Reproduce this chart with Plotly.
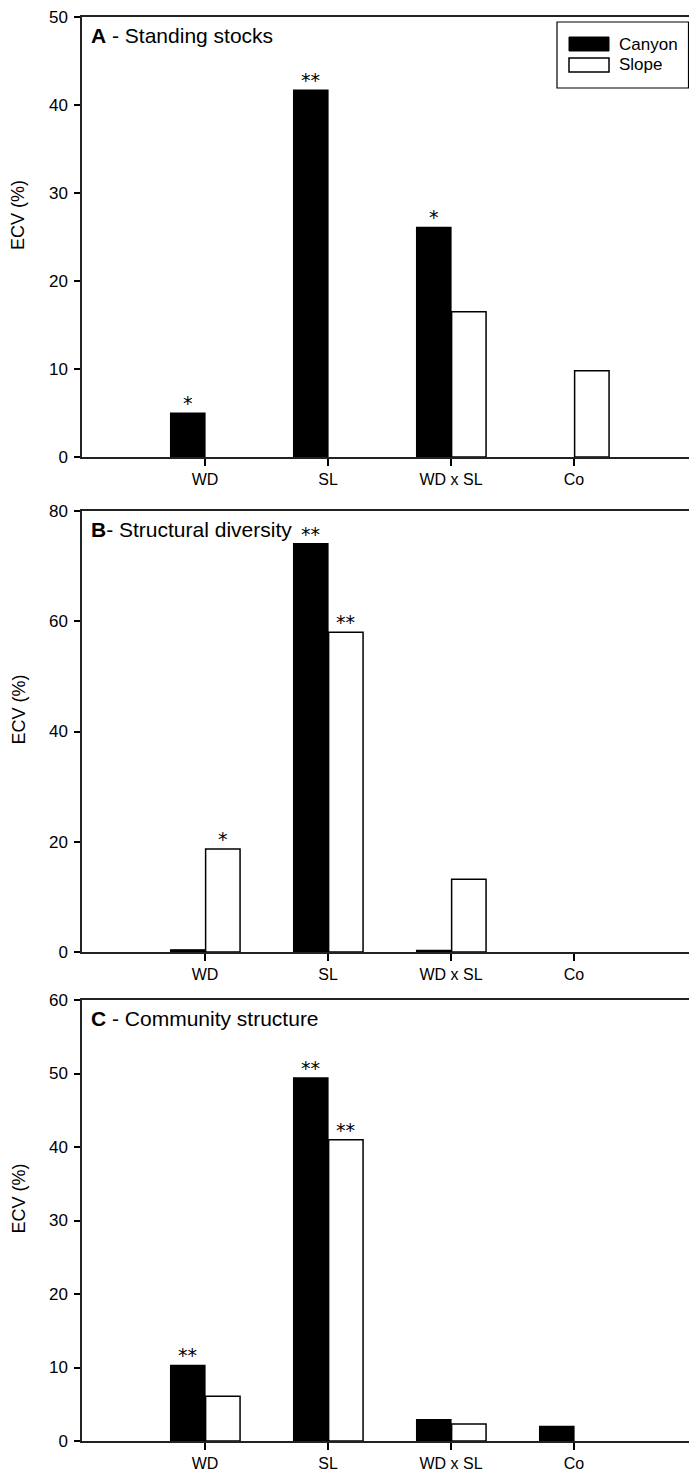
import plotly.graph_objects as go
from plotly.subplots import make_subplots

# Factors on the x axis
categories = ["WD", "SL", "WD x SL", "Co"]

# Explained component of variation (%) per panel
a_canyon = [5.0, 41.7, 26.1, 0.0]
a_slope = [0.0, 0.0, 16.5, 9.8]
b_canyon = [0.4, 74.1, 0.3, 0.0]
b_slope = [18.7, 58.0, 13.2, 0.0]
c_canyon = [10.3, 49.4, 2.9, 2.0]
c_slope = [6.1, 41.0, 2.3, 0.0]

# Significance markers drawn above the bars
a_canyon_sig = ["*", "**", "*", ""]
a_slope_sig = ["", "", "", ""]
b_canyon_sig = ["", "**", "", ""]
b_slope_sig = ["*", "**", "", ""]
c_canyon_sig = ["**", "**", "", ""]
c_slope_sig = ["", "**", "", ""]

series_names = ["Canyon", "Slope"]
panel_titles = ["<b>A</b> - Standing stocks",
                "<b>B</b>- Structural diversity",
                "<b>C</b> - Community structure"]
y_ranges = [(0, 50), (0, 80), (0, 60)]
y_dticks = [10, 20, 10]

panels = [
    (a_canyon, a_slope, a_canyon_sig, a_slope_sig),
    (b_canyon, b_slope, b_canyon_sig, b_slope_sig),
    (c_canyon, c_slope, c_canyon_sig, c_slope_sig),
]

FONT = "Liberation Sans, Arial, sans-serif"
STAR_FONT = "DejaVu Sans, sans-serif"
W, H = 689, 1474
M_L, M_R, M_T, M_B = 82, 0, 17, 33
CAT_STEP = 123.0                      # pixels between category centres
PLOT_W = W - M_L - M_R
X_MAX = PLOT_W / CAT_STEP
BAR_W = 0.28
SLOPE_OFF = 0.005
x_pos = list(range(1, len(categories) + 1))

plot_h = H - M_T - M_B


def px_x(px):
    return (px - M_L) / PLOT_W


def px_y(py):
    return (H - M_B - py) / plot_h


def dom(top_px, bottom_px):
    return [px_y(bottom_px), px_y(top_px)]


domains = [dom(17, 457), dom(511, 952), dom(1000, 1441)]


def outline(vals, w):
    # no outline on empty bars so they don't leave a stub on the axis
    return [w if v > 0 else 0 for v in vals]


fig = make_subplots(rows=3, cols=1)

annotations = []
shapes = []
for i, (canyon, slope, csig, ssig) in enumerate(panels):
    row = i + 1
    fig.add_trace(go.Bar(
        x=x_pos, y=canyon, name=series_names[0], width=BAR_W, offset=-BAR_W,
        marker=dict(color="black", line=dict(color="black", width=outline(canyon, 1.2))),
        showlegend=False), row=row, col=1)
    fig.add_trace(go.Bar(
        x=x_pos, y=slope, name=series_names[1], width=BAR_W, offset=SLOPE_OFF,
        marker=dict(color="white", line=dict(color="black", width=outline(slope, 1.5))),
        showlegend=False), row=row, col=1)

    xr = "x" if i == 0 else f"x{row}"
    yr = "y" if i == 0 else f"y{row}"
    for xs, vals, sigs in ((-BAR_W / 2, canyon, csig),
                           (BAR_W / 2 + SLOPE_OFF, slope, ssig)):
        for xp, v, s in zip(x_pos, vals, sigs):
            if s:
                annotations.append(dict(
                    x=xp + xs, y=v, xref=xr, yref=yr, text=s,
                    showarrow=False, yanchor="bottom", yshift=-3,
                    font=dict(family=STAR_FONT, size=19, color="black")))
    # panel title
    annotations.append(dict(x=0.012, y=1, xref=f"{xr} domain", yref=f"{yr} domain",
                            text=panel_titles[i], showarrow=False,
                            xanchor="left", yanchor="top", yshift=-5,
                            font=dict(family=FONT, size=21, color="black")))
    # y-axis title
    annotations.append(dict(x=px_x(18), y=0.5, xref="paper",
                            yref=f"{yr} domain", text="ECV (%)", textangle=-90,
                            showarrow=False, xanchor="center", yanchor="middle",
                            yshift=22,
                            font=dict(family=FONT, size=18, color="black")))

    fig.update_xaxes(row=row, col=1, range=[0, X_MAX], tickvals=x_pos,
                     ticktext=categories, ticks="outside", ticklen=7,
                     tickwidth=1.5, tickcolor="black", ticklabelstandoff=0,
                     showline=True, linecolor="#222", linewidth=1.5, mirror=True,
                     showgrid=False, zeroline=False, domain=[0, 1],
                     tickfont=dict(family=FONT, size=16, color="black"))
    fig.update_yaxes(row=row, col=1, range=list(y_ranges[i]), dtick=y_dticks[i],
                     ticks="outside", ticklen=6, tickwidth=1.5, tickcolor="black",
                     ticklabelstandoff=3,
                     showline=True, linecolor="#222", linewidth=1.5, mirror=False,
                     showgrid=False, zeroline=False, domain=domains[i],
                     tickfont=dict(family=FONT, size=17, color="black"))

# legend box in the top-right corner of panel A
shapes.append(dict(type="rect", xref="paper", yref="paper",
                   x0=px_x(557), x1=px_x(688.5), y0=px_y(88), y1=px_y(22),
                   line=dict(color="black", width=1.2), fillcolor="white"))
legend_rows = [(44, "black", 0), (65, "white", 1.5)]
for (cy, fill, lw), name in zip(legend_rows, series_names):
    shapes.append(dict(type="rect", xref="paper", yref="paper",
                       x0=px_x(569), x1=px_x(609), y0=px_y(cy + 7), y1=px_y(cy - 7),
                       line=dict(color="black", width=lw if lw else 1), fillcolor=fill))
    annotations.append(dict(x=px_x(617), y=px_y(cy), xref="paper", yref="paper",
                            text=name, showarrow=False, xanchor="left", yanchor="middle",
                            font=dict(family=FONT, size=17, color="black")))

fig.update_layout(
    width=W, height=H,
    margin=dict(l=M_L, r=M_R, t=M_T, b=M_B, autoexpand=False),
    paper_bgcolor="white", plot_bgcolor="white",
    barmode="overlay",
    showlegend=False,
    annotations=annotations,
    shapes=shapes,
)

fig.write_html("out.html")
